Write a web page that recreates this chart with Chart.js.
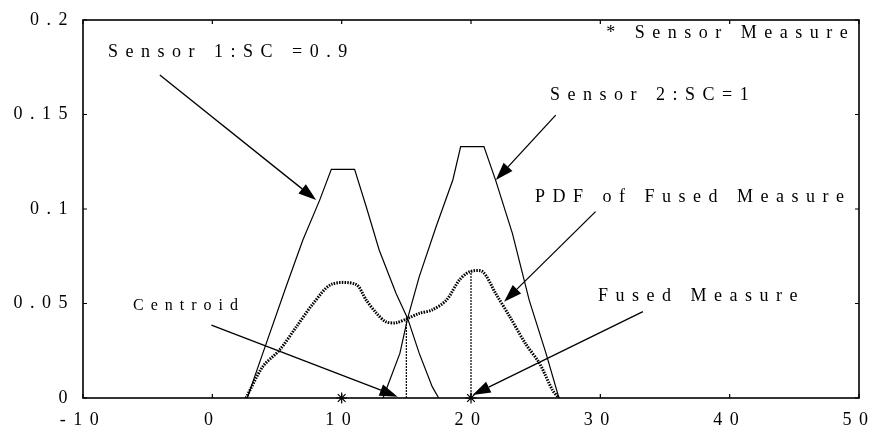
<!DOCTYPE html>
<html><head><meta charset="utf-8">
<script src="https://cdn.jsdelivr.net/npm/chart.js@4.4.1/dist/chart.umd.min.js"></script>
<style>html,body{margin:0;padding:0;background:#fff;overflow:hidden}#wrap{width:888px;height:430px}</style>
</head><body><div id="wrap"><canvas id="c" width="888" height="430"></canvas></div>
<script>
// ---- data ----
const xTicks = [-10, 0, 10, 20, 30, 40, 50];
const yTicks = [0, 0.05, 0.1, 0.15, 0.2];
const yTickLabels = ['0', '0.05', '0.1', '0.15', '0.2'];

const sensor1X = [2.7, 3.9, 5.7, 7.0, 8.3, 9.2, 11.0, 11.9, 12.9, 14.2, 15.1, 16.0, 17.0, 17.5];
const sensor1Y = [0, 0.0236, 0.0589, 0.0836, 0.1047, 0.121, 0.121, 0.1012, 0.0783, 0.0554, 0.0421, 0.0236, 0.006, 0];

const sensor2X = [13.2, 14.5, 15.1, 16.0, 17.3, 18.6, 19.2, 21.0, 21.9, 23.2, 24.5, 25.8, 26.8];
const sensor2Y = [0, 0.0236, 0.0421, 0.0642, 0.0906, 0.1155, 0.133, 0.133, 0.1153, 0.0871, 0.0518, 0.0236, 0];

const fusedX = [2.6, 3.9, 5.2, 6.5, 7.8, 9.2, 11.1, 11.9, 12.7, 13.4, 14.2, 15.1, 16.0, 17.0, 18.1, 19.1, 19.9, 20.9, 21.9, 23.0, 24.2, 25.3, 26.3, 26.8];
const fusedY = [0, 0.0166, 0.0254, 0.0377, 0.05, 0.0601, 0.0601, 0.0518, 0.0448, 0.0404, 0.0398, 0.0421, 0.0448, 0.0466, 0.0518, 0.0624, 0.0668, 0.0668, 0.0554, 0.043, 0.0289, 0.0183, 0.0042, 0];

const measureX = [10, 20];
const measureY = [0, 0];

const centroidX = [15, 20];
const centroidTop = [0.042, 0.067];

const labelTexts = ['Sensor 1:SC =0.9', 'Sensor 2:SC=1', 'PDF of Fused Measure', 'Fused Measure', 'Centroid', '* Sensor Measure'];
// ---- layout (data coordinates for annotation anchors) ----
const labelAnchors = [[-8.07, 0.1804], [26.11, 0.1577], [24.95, 0.1037], [29.82, 0.0513], [-6.13, 0.0466], [30.45, 0.1905]];
const labelSizes = [18, 18, 18, 18, 16, 18];
const labelSpacing = [7.5, 7.5, 7.5, 7.5, 7, 7.5];
const arrows = [
  [[-4.06, 0.1709], [8.03, 0.1047]],
  [[26.55, 0.1497], [21.92, 0.1153]],
  [[29.63, 0.0986], [22.56, 0.0509]],
  [[33.29, 0.0457], [20.12, 0.0016]],
  [[-0.07, 0.0386], [14.33, 0.0007]]
];

const FONT = '"Liberation Serif", "Times New Roman", serif';
const SPACING = '7.5px';

const pts = (xs, ys) => xs.map((x, i) => ({x: x, y: ys[i]}));

const datasets = [
  {label: 'Sensor 1', data: pts(sensor1X, sensor1Y), showLine: true, borderColor: '#000', borderWidth: 1.2, pointRadius: 0, tension: 0},
  {label: 'Sensor 2', data: pts(sensor2X, sensor2Y), showLine: true, borderColor: '#000', borderWidth: 1.2, pointRadius: 0, tension: 0},
  {label: 'PDF of Fused Measure', data: pts(fusedX, fusedY), showLine: true, borderColor: '#000', borderWidth: 3, borderDash: [1.5, 1.2], pointRadius: 0, tension: 0.3}
];
centroidX.forEach((cx, i) => {
  datasets.push({label: 'Centroid ' + (i + 1), data: [{x: cx, y: 0}, {x: cx, y: centroidTop[i]}], showLine: true,
    borderColor: '#000', borderWidth: 1.2, borderDash: [2, 1], pointRadius: 0});
});
datasets.push({label: 'Sensor Measure', data: pts(measureX, measureY), showLine: false, pointStyle: 'star',
  pointRadius: 5.5, borderColor: '#000', borderWidth: 1.2, backgroundColor: '#000', clip: false});

const framePlugin = {
  id: 'framePlugin',
  beforeDraw(chart) { chart.ctx.letterSpacing = SPACING; },
  afterDraw(chart) {
    const ctx = chart.ctx, xs = chart.scales.x, ys = chart.scales.y, a = chart.chartArea;
    ctx.save();
    ctx.letterSpacing = '0px';
    ctx.strokeStyle = '#000';
    ctx.lineWidth = 1.6;
    ctx.strokeRect(a.left, a.top, a.right - a.left, a.bottom - a.top);
    ctx.lineWidth = 1.2;
    ctx.beginPath();
    xTicks.forEach(v => {
      const p = xs.getPixelForValue(v);
      ctx.moveTo(p, a.bottom); ctx.lineTo(p, a.bottom - 4);
      ctx.moveTo(p, a.top); ctx.lineTo(p, a.top + 4);
    });
    yTicks.forEach(v => {
      const p = ys.getPixelForValue(v);
      ctx.moveTo(a.left, p); ctx.lineTo(a.left + 4, p);
      ctx.moveTo(a.right, p); ctx.lineTo(a.right - 4, p);
    });
    ctx.stroke();
    // arrows
    ctx.fillStyle = '#000';
    ctx.lineWidth = 1.3;
    arrows.forEach(([s, t]) => {
      const x0 = xs.getPixelForValue(s[0]), y0 = ys.getPixelForValue(s[1]);
      const x1 = xs.getPixelForValue(t[0]), y1 = ys.getPixelForValue(t[1]);
      const ang = Math.atan2(y1 - y0, x1 - x0);
      const L = 18, W = 6;
      const bx = x1 - L * Math.cos(ang), by = y1 - L * Math.sin(ang);
      ctx.beginPath(); ctx.moveTo(x0, y0); ctx.lineTo(bx, by); ctx.stroke();
      ctx.beginPath();
      ctx.moveTo(x1, y1);
      ctx.lineTo(bx + W * Math.sin(ang), by - W * Math.cos(ang));
      ctx.lineTo(bx - W * Math.sin(ang), by + W * Math.cos(ang));
      ctx.closePath(); ctx.fill();
    });
    // labels
    ctx.textAlign = 'left';
    ctx.textBaseline = 'alphabetic';
    labelTexts.forEach((t, i) => {
      const [lx, ly] = labelAnchors[i];
      ctx.font = labelSizes[i] + 'px ' + FONT;
      ctx.letterSpacing = labelSpacing[i] + 'px';
      ctx.fillText(t, xs.getPixelForValue(lx), ys.getPixelForValue(ly));
    });
    ctx.restore();
  }
};

new Chart(document.getElementById('c'), {
  type: 'scatter',
  data: {datasets: datasets},
  options: {
    responsive: false,
    devicePixelRatio: 1,
    animation: false,
    layout: {padding: {top: 20, right: 29, left: 0, bottom: 0}},
    plugins: {legend: {display: false}, tooltip: {enabled: false}},
    scales: {
      x: {
        type: 'linear', min: -10, max: 50,
        grid: {display: false}, border: {display: false},
        afterBuildTicks: s => { s.ticks = xTicks.map(v => ({value: v})); },
        afterFit: s => { s.height = 32; },
        ticks: {color: '#000', font: {family: FONT, size: 18}, padding: 3, maxRotation: 0, autoSkip: false,
          callback: v => String(v)}
      },
      y: {
        type: 'linear', min: 0, max: 0.2,
        grid: {display: false}, border: {display: false},
        afterBuildTicks: s => { s.ticks = yTicks.map(v => ({value: v})); },
        afterFit: s => { s.width = 83; },
        ticks: {color: '#000', font: {family: FONT, size: 18}, padding: 0, autoSkip: false,
          callback: (v, i) => yTickLabels[i]}
      }
    }
  },
  plugins: [framePlugin]
});
</script>
</body></html>
